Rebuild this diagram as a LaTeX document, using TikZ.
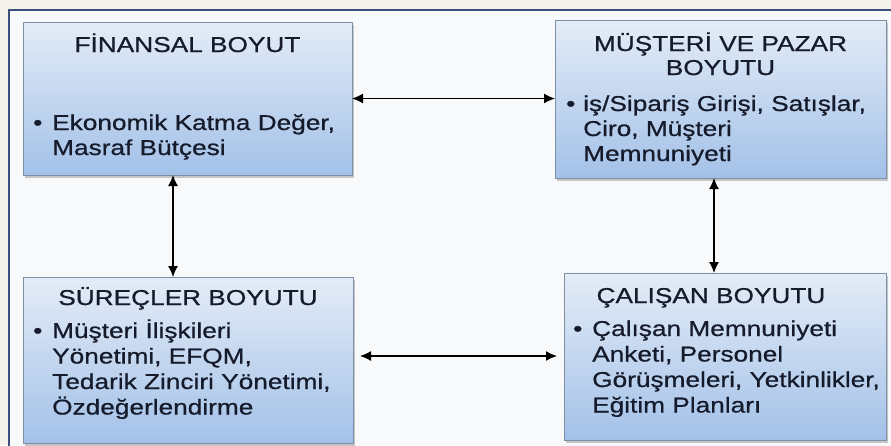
\documentclass[tikz,border=0pt]{standalone}
\usepackage{fontspec}
\setmainfont{Liberation Sans}[FakeStretch=1.22, FakeBold=0.7]
\usetikzlibrary{arrows.meta,shadows,calc}
\definecolor{frameblue}{HTML}{3D4F7C}
\definecolor{boxtop}{HTML}{E4ECF7}
\definecolor{boxbot}{HTML}{A3C1E8}
\definecolor{boxline}{HTML}{7D90A8}
\definecolor{txt}{HTML}{151B2B}
\definecolor{outerbg}{HTML}{F4F2EC}
\definecolor{innerbg}{HTML}{F8F9FB}
\tikzset{
  dimbox/.style={draw=boxline, line width=0.9pt, top color=boxtop, bottom color=boxbot,
    rectangle, anchor=north west, inner sep=0pt, outer sep=0pt,
    drop shadow={shadow xshift=1.5pt, shadow yshift=-2.5pt, opacity=0.35, fill=black!60}},
  ttl/.style={anchor=base, inner sep=0pt, text=txt, font=\fontsize{21.5}{25}\selectfont},
  bul/.style={anchor=base west, inner sep=0pt, text=txt, font=\fontsize{21.5}{25}\selectfont},
  arr/.style={draw=black, line width=1.3pt, {Latex[length=11pt,width=10pt]}-{Latex[length=11pt,width=10pt]}}
}
\begin{document}
\begin{tikzpicture}[x=1pt,y=-1pt]
\useasboundingbox (0,0) rectangle (891,445);
\fill[outerbg] (0,0) rectangle (891,445);
\clip (0,0) rectangle (891,445);
\fill[innerbg] (9,10) rectangle (900,460);
\draw[frameblue, line width=2.5pt] (9,460) -- (9,10) -- (900,10);

% boxes
\node[dimbox, minimum width=329pt, minimum height=153pt] (fin) at (23,22) {};
\node[dimbox, minimum width=331pt, minimum height=158pt] (mus) at (555,20) {};
\node[dimbox, minimum width=330pt, minimum height=166pt] (sur) at (23,277) {};
\node[dimbox, minimum width=322pt, minimum height=167pt] (cal) at (564,273) {};

% FINANSAL
\node[ttl] (fin-t) at (187.5,52) {FİNANSAL BOYUT};
\node[bul] (fin-b) at (33,130) {•};
\node[bul] (fin-1) at (52,130) {Ekonomik Katma Değer,};
\node[bul] (fin-2) at (52,155) {Masraf Bütçesi};

% MUSTERI
\node[ttl] (mus-t1) at (720.5,51) {MÜŞTERİ VE PAZAR};
\node[ttl] (mus-t2) at (720.5,75) {BOYUTU};
\node[bul] (mus-b) at (566,111) {•};
\node[bul] (mus-1) at (583,111) {iş/Sipariş Girişi, Satışlar,};
\node[bul] (mus-2) at (583,136) {Ciro, Müşteri};
\node[bul] (mus-3) at (583,161) {Memnuniyeti};

% SURECLER
\node[ttl] (sur-t) at (188,305) {SÜREÇLER BOYUTU};
\node[bul] (sur-b) at (33,338) {•};
\node[bul] (sur-1) at (52,338) {Müşteri İlişkileri};
\node[bul] (sur-2) at (52,363.5) {Yönetimi, EFQM,};
\node[bul] (sur-3) at (52,389) {Tedarik Zinciri Yönetimi,};
\node[bul] (sur-4) at (52,414.5) {Özdeğerlendirme};

% CALISAN
\node[ttl] (cal-t) at (711,303) {ÇALIŞAN BOYUTU};
\node[bul] (cal-b) at (573,336) {•};
\node[bul] (cal-1) at (592,336) {Çalışan Memnuniyeti};
\node[bul] (cal-2) at (592,361.5) {Anketi, Personel};
\node[bul] (cal-3) at (592,387) {Görüşmeleri, Yetkinlikler,};
\node[bul] (cal-4) at (592,412.5) {Eğitim Planları};

% connectors
\draw[arr] (fin.east) -- (fin.east -| mus.west);
\path (fin.south west) ++(150,0) coordinate (l1);
\draw[arr] (l1) -- (l1 |- sur.north);
\path (mus.south west) ++(159,0) coordinate (r1);
\draw[arr] (r1) -- (r1 |- cal.north);
\path (sur.north east) ++(7,79) coordinate (b1);
\draw[arr, shorten >=7pt] (b1) -- (b1 -| cal.west);
\end{tikzpicture}
\end{document}
